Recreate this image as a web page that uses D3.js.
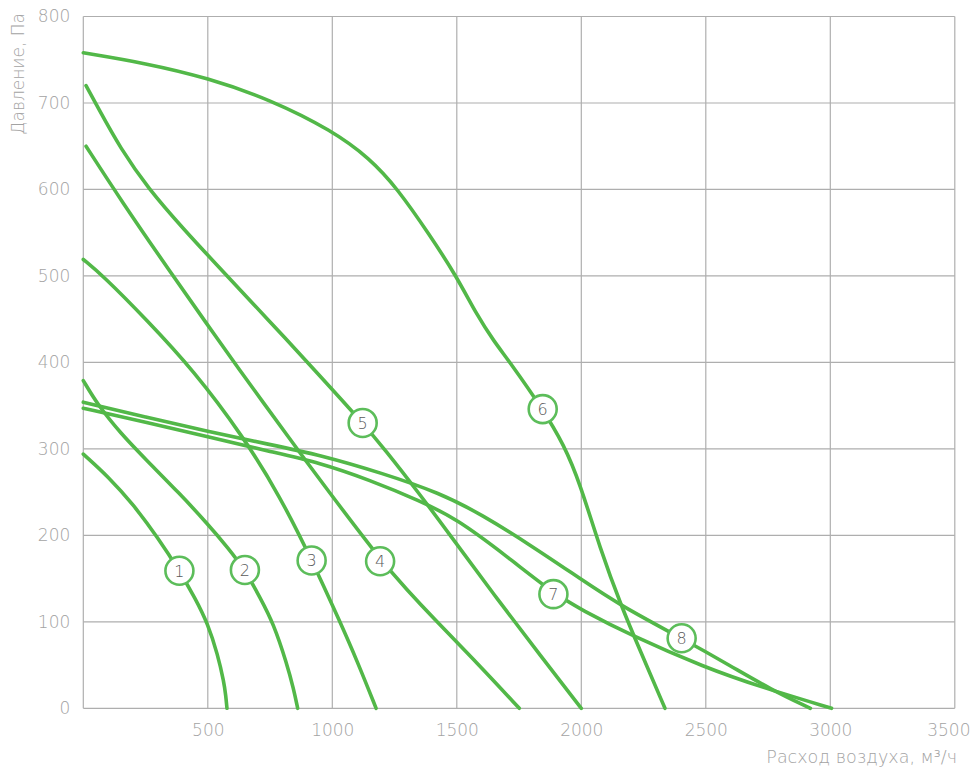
<!DOCTYPE html>
<html>
<head>
<meta charset="utf-8">
<script src="https://cdn.jsdelivr.net/npm/d3@7"></script>
<style>
  html, body { margin: 0; padding: 0; background: #fff; }
  svg { display: block; font-family: "DejaVu Sans", sans-serif; }
</style>
</head>
<body>
<svg id="chart" width="975" height="768"></svg>
<script>
// ---- data ----
const xTicks = [500, 1000, 1500, 2000, 2500, 3000, 3500];
const yTicks = [0, 100, 200, 300, 400, 500, 600, 700, 800];
const xTitle = "Расход воздуха, м³/ч";
const yTitle = "Давление, Па";

const curveNames = ["1", "2", "3", "4", "5", "6", "7", "8"];

const curve1 = [[0,294],[100,268],[200,236],[300,197],[386,159],[450,127],[500,98],[540,62],[565,30],[572,15],[577,0]];
const curve2 = [[0,379],[60,350],[150,318],[250,288],[388,248],[500,213],[580,186],[649,160],[710,128],[764,98],[817,52],[845,22],[861,0]];
const curve3 = [[0,519],[80,500],[255,449],[442,391],[643,314],[790,245],[917,172],[1031,100],[1098,56],[1176,0]];
const curve4 = [[11,650],[150,588],[353,503],[500,443],[603,401],[843,306],[951,264],[1192,172],[1300,137],[1400,106],[1580,53],[1751,0]];
const curve5 = [[11,720],[60,694],[150,647],[261,601],[400,555],[561,505],[750,447],[923,393],[1122,330],[1212,299],[1350,248],[1466,203],[1650,131],[1841,59],[2000,0]];
const curve6 = [[0,758],[250,746],[500,729],[750,704],[1000,668],[1150,636],[1259,602],[1392,547],[1500,499],[1580,455],[1650,424],[1714,400],[1845,346],[1930,305],[1995,260],[2075,185],[2162,117],[2236,67],[2336,0]];
const curve7 = [[0,347],[250,331],[500,314],[750,297],[950,284],[1150,264],[1352,240],[1500,219],[1700,176],[1888,133],[2000,114],[2202,84],[2498,47],[2718,25],[3005,0]];
const curve8 = [[0,354],[250,337],[500,320],[750,305],[950,293],[1200,272],[1432,249],[1600,224],[1800,188],[2000,149],[2162,118],[2403,81],[2600,49],[2760,22],[2920,0]];

const curves = [curve1, curve2, curve3, curve4, curve5, curve6, curve7, curve8];

// label marker positions (data units)
const labelX = [386, 649, 917, 1192, 1122, 1845, 1888, 2403];
const labelY = [159, 160, 171, 170, 330, 346, 132, 81];

// ---- drawing ----
const svg = d3.select("#chart");
const x = d3.scaleLinear().domain([0, 3500]).range([83.3, 954.8]);
const y = d3.scaleLinear().domain([0, 800]).range([708.3, 16.5]);

const gridColor = "#aeaeae";
const textColor = "#a3a3a3";
const green = "#52b848";
const fontW = 200;

// grid
const grid = svg.append("g");
grid.selectAll("line.h").data(yTicks).join("line")
  .attr("x1", x(0)).attr("x2", x(3500))
  .attr("y1", d => y(d)).attr("y2", d => y(d))
  .attr("stroke", gridColor).attr("stroke-width", 1.2);
grid.selectAll("line.v").data([0].concat(xTicks)).join("line")
  .attr("y1", y(0)).attr("y2", y(800))
  .attr("x1", d => x(d)).attr("x2", d => x(d))
  .attr("stroke", gridColor).attr("stroke-width", 1.2);

// axes (labels only)
const xAxis = d3.axisBottom(x).tickValues(xTicks).tickFormat(d3.format("d")).tickSize(0).tickPadding(16);
const gx = svg.append("g").attr("transform", `translate(0,${y(0)})`).call(xAxis);
gx.select(".domain").remove();
gx.selectAll("text").attr("fill", textColor).attr("font-size", 17).attr("font-weight", fontW)
  .attr("font-family", "'DejaVu Sans', sans-serif");
// keep the last label inside the picture
gx.selectAll(".tick").filter(d => d === 3500).select("text")
  .attr("text-anchor", "end").attr("x", 970 - x(3500));

const yAxis = d3.axisLeft(y).tickValues(yTicks).tickFormat(d3.format("d")).tickSize(0).tickPadding(13);
const gy = svg.append("g").attr("transform", `translate(${x(0)},0)`).call(yAxis);
gy.select(".domain").remove();
gy.selectAll("text").attr("fill", textColor).attr("font-size", 17).attr("font-weight", fontW)
  .attr("font-family", "'DejaVu Sans', sans-serif");

// titles
svg.append("text")
  .attr("x", 957).attr("y", 763)
  .attr("text-anchor", "end")
  .attr("fill", textColor).attr("font-size", 17.5).attr("font-weight", fontW)
  .text(xTitle);
svg.append("text")
  .attr("transform", `translate(24,13) rotate(-90)`)
  .attr("text-anchor", "end")
  .attr("fill", textColor).attr("font-size", 17).attr("font-weight", fontW)
  .text(yTitle);

// curves
const line = d3.line().x(d => x(d[0])).y(d => y(d[1])).curve(d3.curveBasis);
svg.append("g").selectAll("path").data(curves).join("path")
  .attr("d", line)
  .attr("fill", "none")
  .attr("stroke", green)
  .attr("stroke-width", 3.6)
  .attr("stroke-linecap", "round");

// labels
const lab = svg.append("g").selectAll("g").data(curveNames).join("g")
  .attr("transform", (d, i) => `translate(${x(labelX[i])},${y(labelY[i])})`);
lab.append("circle").attr("r", 14).attr("fill", "#fff")
  .attr("stroke", "#5cbd5a").attr("stroke-width", 2.6);
lab.append("text").attr("text-anchor", "middle").attr("dy", "0.36em")
  .attr("fill", "#5a5a5a").attr("font-size", 16).attr("font-weight", fontW)
  .text(d => d);
</script>
</body>
</html>
